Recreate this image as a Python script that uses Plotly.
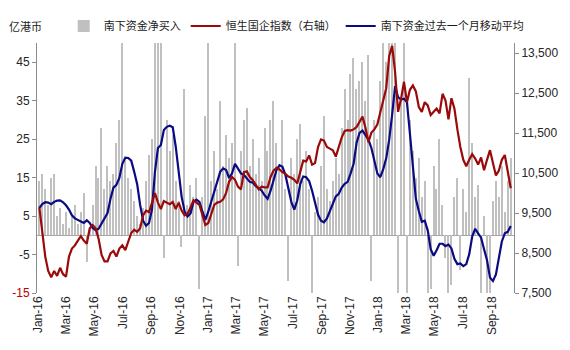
import pandas as pd
import plotly.graph_objects as go

# ---- data (weekly samples) ----
start_date = "2016-01-04"
end_date = "2018-10-12"

net_buy = [14, 16, 12, 8, 15, 16, 5, 7, 3, 6, 2, 5, 8, 3, 6, 11, -7, 2, 8, 18,
           15, 28, 12, 18, 14, 16, 24, 30, 52, 20, 15, 12, 9, 5, 3, 7, 14, 21, 25, 52,
           52, 52, -6, 30, 22, 26, 14, 9, -3, 38, 8, 13, 10, 15, -14, 10, 31, 52, 14, 22,
           12, 35, 18, 26, 20, 24, 52, -8, 22, 30, 33, 18, 25, 16, 20, 14, 28, 22, 30, 35,
           24, 18, 30, 12, -12, 20, 16, 25, 29, 14, 22, 12, -15, 6, 10, 18, 31, 12, 9, 14,
           20, 16, 28, 38, 30, 42, 46, 38, 40, 45, 35, 47, -12, 30, 25, 40, 52, 45, 52, 50,
           52, -15, 35, 52, -15, 30, 22, 15, 20, 10, 14, -15, -14, 18, 12, 25, 8, -6, -15, -13,
           10, 15, -9, 12, 6, 41, 24, 10, 13, -15, 5, -15, -15, 9, 14, 10, 18, 6, 14, 20]

hscei = [9640, 8960, 8410, 8050, 7890, 8050, 7930, 8130, 7970, 7910,
         8410, 8610, 8690, 8810, 8920, 8810, 8730, 9120, 9200, 9120,
         8850, 8450, 8290, 8290, 8490, 8550, 8410, 8610, 8690, 8570,
         8770, 9000, 9080, 9030, 9120, 9440, 9560, 9520, 9760, 10000,
         9760, 9600, 9800, 9760, 9720, 9775, 9600, 9760, 9560, 9440,
         9480, 9640, 9820, 9760, 9700, 9450, 9200, 9250, 9480, 9700,
         9760, 9780, 9840, 10000, 10280, 10400, 10330, 10160, 10090, 10520,
         10540, 10400, 10320, 10200, 10090, 10160, 10140, 10140, 10400, 10560,
         10630, 10590, 10520, 10480, 10410, 10380, 10330, 10240, 10560, 10810,
         10790, 10940, 10710, 10750, 11150, 11340, 11310, 11150, 11110, 11070,
         10910, 11150, 11390, 11550, 11570, 11560, 11590, 11650, 11790, 11910,
         11630, 11270, 11510, 11590, 11710, 12030, 12270, 12620, 13420, 13680,
         13020, 12030, 12350, 12780, 12270, 12580, 12690, 12540, 12150, 12030,
         12270, 12190, 11950, 12030, 12110, 11990, 12480, 12310, 11840, 12370,
         12110, 11590, 11150, 10830, 10670, 10830, 10970, 10860, 10710, 10890,
         10570, 10830, 11070, 10750, 10440, 10560, 10830, 10950, 10520, 10120]

net_buy_ma = [7.1, 8.1, 8.6, 8.5, 8.1, 8.7, 9.0, 9.1, 8.6, 7.8,
              6.7, 5.2, 4.4, 4.0, 3.6, 3.2, 3.9, 3.2, 1.9, 1.3,
              1.7, 3.0, 4.4, 5.8, 9.5, 12.4, 13.1, 14.9, 18.6, 20.2,
              20.1, 19.4, 16.5, 13.3, 7.9, 3.8, 2.5, 3.2, 6.7, 16.5,
              22.7, 23.5, 27.4, 28.2, 28.5, 28.1, 23.1, 16.5, 10.0, 6.2,
              4.9, 5.7, 8.7, 9.3, 8.7, 6.2, 4.0, 6.2, 8.7, 11.2,
              14.1, 16.5, 17.4, 17.0, 14.9, 16.1, 18.6, 17.5, 16.1, 15.7,
              14.9, 13.9, 13.7, 12.8, 12.3, 11.6, 10.4, 9.5, 11.6, 14.2,
              17.0, 18.2, 17.8, 15.7, 12.4, 8.7, 6.7, 9.1, 13.3, 15.3,
              15.1, 14.1, 11.6, 8.3, 5.4, 3.8, 3.4, 4.4, 6.2, 8.3,
              10.1, 10.8, 12.4, 13.4, 13.9, 16.1, 18.6, 24.0, 26.6, 27.2,
              26.0, 24.9, 22.7, 19.0, 16.1, 15.1, 17.2, 20.0, 24.8, 31.4,
              38.8, 35.9, 35.3, 35.5, 34.6, 26.4, 18.2, 9.5, 6.3, 3.5,
              3.8, 1.3, -3.6, -5.3, -3.9, -2.2, -2.2, -2.8, -2.4, -3.4,
              -6.1, -7.5, -7.3, -8.0, -7.5, -4.9, -0.3, 1.7, 0.5, -0.6,
              -3.6, -6.5, -11.0, -11.9, -10.2, -5.7, -1.6, 0.5, 0.9, 2.4]

x_labels = ["Jan-16", "Mar-16", "May-16", "Jul-16", "Sep-16", "Nov-16",
            "Jan-17", "Mar-17", "May-17", "Jul-17", "Sep-17", "Nov-17",
            "Jan-18", "Mar-18", "May-18", "Jul-18", "Sep-18"]

left_ticks = [-15, -5, 5, 15, 25, 35, 45]

dates = pd.date_range(start_date, end_date, periods=len(net_buy))
x_tickvals = [pd.to_datetime(s, format="%b-%y") for s in x_labels]
left_ticktext = ['<span style="color:#C00000">%d</span>' % v if v == -15 else str(v)
                 for v in left_ticks]

fig = go.Figure()
fig.add_trace(go.Bar(x=dates, y=net_buy, name="南下资金净买入",
                     marker=dict(color="#C0C0C0", line=dict(width=0)),
                     width=2.8 * 86400000, yaxis="y"))
fig.add_trace(go.Scatter(x=dates, y=hscei, name="恒生国企指数（右轴）", mode="lines",
                         line=dict(color="#9A0A0A", width=2.2), yaxis="y2"))
fig.add_trace(go.Scatter(x=dates, y=net_buy_ma, name="南下资金过去一个月移动平均", mode="lines",
                         line=dict(color="#0A0A82", width=2.2), yaxis="y"))

axis_color = "#8C8C8C"
tick_font = dict(family="Liberation Sans, Arial, sans-serif", size=12, color="#262626")

fig.update_layout(
    width=570, height=350,
    margin=dict(l=36, r=54, t=30, b=57),
    paper_bgcolor="white", plot_bgcolor="white",
    bargap=0,
    showlegend=True,
    legend=dict(orientation="h", x=0.056, xanchor="left", y=1.068, yanchor="middle",
                font=dict(family="Noto Sans CJK SC", size=11, color="#1a1a1a"),
                bgcolor="rgba(0,0,0,0)", itemwidth=30, traceorder="normal"),
    xaxis=dict(type="date", range=["2015-12-30", "2018-10-19"],
               tickvals=x_tickvals, ticktext=x_labels, tickangle=-90,
               tickfont=dict(family="Liberation Sans, Arial, sans-serif", size=12, color="#262626"),
               showgrid=False, zeroline=False, showline=False, ticks=""),
    yaxis=dict(range=[-15, 50], tickvals=left_ticks, ticktext=left_ticktext,
               tickfont=tick_font, showgrid=False,
               zeroline=True, zerolinecolor="#A6A6A6", zerolinewidth=1,
               showline=True, linecolor=axis_color, linewidth=1,
               ticks="outside", ticklen=4, tickcolor=axis_color),
    yaxis2=dict(range=[7500, 13750], overlaying="y", side="right",
                tick0=7500, dtick=1000, tickformat=",d",
                tickfont=tick_font, showgrid=False, zeroline=False,
                showline=True, linecolor=axis_color, linewidth=1,
                ticks="outside", ticklen=4, tickcolor=axis_color),
    annotations=[dict(text="亿港币", xref="paper", yref="paper", x=-0.063, y=1.068,
                      xanchor="left", yanchor="middle", showarrow=False,
                      font=dict(family="Noto Sans CJK SC", size=11, color="#1a1a1a"))],
)

fig.write_html("out.html")
